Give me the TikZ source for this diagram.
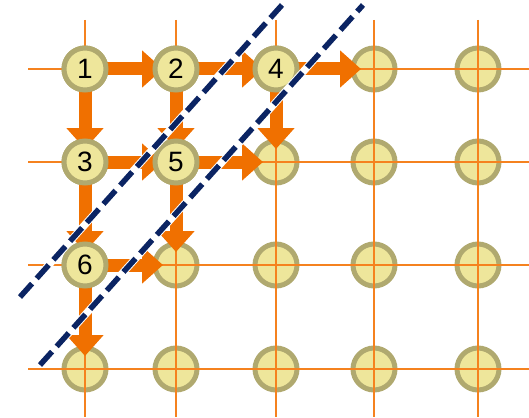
\documentclass[tikz,border=0pt]{standalone}
\usepackage{fontspec}
\setmainfont{Liberation Sans}
\usetikzlibrary{arrows.meta}
\definecolor{gridc}{HTML}{F5821F}
\definecolor{arrc}{HTML}{F07000}
\definecolor{ringc}{HTML}{B0A96F}
\definecolor{fillc}{HTML}{EEE69B}
\definecolor{navyc}{HTML}{0B2463}
\begin{document}
\begin{tikzpicture}[x=1pt,y=-1pt,
  gridline/.style={gridc,line width=1.8pt},
  pt/.style={circle,draw=ringc,fill=fillc,line width=5pt,minimum size=42pt,inner sep=0pt,font=\fontsize{28}{28}\selectfont},
  flow/.style={arrc,line width=13pt,-{Triangle[width=36pt,length=21pt]},shorten >=13pt,shorten <=18pt},
  cutwhite/.style={white,line width=7.5pt},
  cut/.style={navyc,line width=5.5pt,dash pattern=on 18pt off 7pt}]
\useasboundingbox (0,0) rectangle (529,417);
% plain nodes
\foreach \x [count=\i] in {85,176,276,374,478} {
  \foreach \y [count=\j] in {69,162,265,369} {
    \node[pt] (n\j\i) at (\x,\y) {};
  }
}
% grid lines (over the plain nodes)
\foreach \x [count=\i] in {85,176,276,374,478} {
  \coordinate (vt\i) at (\x,20);
  \coordinate (vb\i) at (\x,417);
  \draw[gridline] (vt\i) -- (vb\i);
}
\foreach \y [count=\j] in {69,162,265,369} {
  \coordinate (hl\j) at (28,\y);
  \coordinate (hr\j) at (529,\y);
  \draw[gridline] (hl\j) -- (hr\j);
}
% arrows
\draw[flow] (n11.center) -- (n12.center);
\draw[flow] (n11.center) -- (n21.center);
\draw[flow] (n12.center) -- (n13.center);
\draw[flow] (n12.center) -- (n22.center);
\draw[flow] (n21.center) -- (n22.center);
\draw[flow] (n21.center) -- (n31.center);
\draw[flow] (n13.center) -- (n14.center);
\draw[flow] (n13.center) -- (n23.center);
\draw[flow] (n22.center) -- (n23.center);
\draw[flow] (n22.center) -- (n32.center);
\draw[flow] (n31.center) -- (n32.center);
\draw[flow] (n31.center) -- (n41.center);
% labelled nodes on top
\node[pt] (a1) at (n11) {1};
\node[pt] (a2) at (n12) {2};
\node[pt] (a4) at (n13) {4};
\node[pt] (a3) at (n21) {3};
\node[pt] (a5) at (n22) {5};
\node[pt] (a6) at (n31) {6};
% cut lines
\coordinate (d1a) at (20,297);
\coordinate (d1b) at (282,5);
\coordinate (d2a) at (40,365);
\coordinate (d2b) at (363,5);
\draw[cutwhite] (d1a) -- (d1b);
\draw[cutwhite] (d2a) -- (d2b);
\draw[cut] (d1a) -- (d1b);
\draw[cut] (d2a) -- (d2b);
\end{tikzpicture}
\end{document}
